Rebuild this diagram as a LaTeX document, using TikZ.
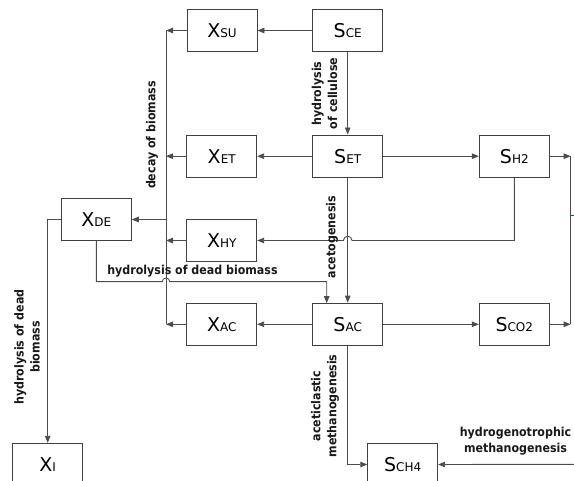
\documentclass[tikz,border=0pt]{standalone}
\usepackage{fontspec}
\setmainfont{DejaVu Sans}
\newfontfamily\lblfont{DejaVu Sans Condensed}
\usetikzlibrary{arrows.meta}
\newcommand\boxlbl[2]{{\fontsize{19}{19}\selectfont #1}{\fontsize{12}{12}\selectfont #2}}
\begin{document}
\begin{tikzpicture}[x=1pt,y=-1pt,
  box/.style={draw=black!75, line width=0.9pt, minimum width=70pt, minimum height=42.4pt, inner sep=0pt},
  conn/.style={draw=black!70, line width=0.9pt},
  arr/.style={conn, -{Triangle[length=7pt,width=5.5pt]}},
  lbl/.style={font=\lblfont\bfseries\fontsize{12.3}{16}\selectfont, align=center, inner sep=0pt, text=black!90},
  stub/.style={draw=blue!60!cyan!70!black, line width=0.6pt},
]
\useasboundingbox (0,0) rectangle (574,481);

% boxes
\node[box] (XSU) at (222,30.5) {\boxlbl{X}{SU}};
\node[box] (SCE) at (347.7,30.5) {\boxlbl{S}{CE}};
\node[box] (XET) at (221.7,156.2) {\boxlbl{X}{ET}};
\node[box] (SET) at (347.7,156.2) {\boxlbl{S}{ET}};
\node[box] (SH2) at (514.3,156.2) {\boxlbl{S}{H2}};
\node[box] (XDE) at (96.3,219.5) {\boxlbl{X}{DE}};
\node[box] (XHY) at (221.7,240.5) {\boxlbl{X}{HY}};
\node[box] (XAC) at (221.7,324.3) {\boxlbl{X}{AC}};
\node[box] (SAC) at (347.7,324.3) {\boxlbl{S}{AC}};
\node[box] (SCO2) at (514.3,324.3) {\boxlbl{S}{CO2}};
\node[box] (SCH4) at (402.7,464.5) {\boxlbl{S}{CH4}};
\node[box] (XI) at (47.7,464.5) {\boxlbl{X}{I}};

% coordinates
\coordinate (bustop) at (166,30.5);
\coordinate (busbot) at (166,324.3);
\coordinate (rtop) at (570.7,156.2);
\coordinate (rbot) at (570.7,324.3);
\coordinate (stubA) at (570.7,215);
\coordinate (stubB) at (574,215);
\coordinate (rightin) at (574,464.3);

% decay bus
\draw[conn] (bustop) -- (busbot);
\draw[arr] (XSU.west) -- (bustop);
\draw[arr] (XET.west) -- (XET.west -| bustop);
\draw[arr] (XHY.west) -- (XHY.west -| bustop);
\draw[arr] (XAC.west) -- (busbot);
\draw[arr] (XDE.east -| bustop) -- (XDE.east);

% top row
\draw[arr] (SCE.west) -- (XSU.east);
\draw[arr] (SCE.south) -- (SET.north);
\draw[arr] (SET.west) -- (XET.east);
\draw[arr] (SET.east) -- (SH2.west);
\draw[arr] (SH2.east) -- (rtop);
\draw[conn] (rtop) -- (rbot);
\draw[stub] (stubA) -- (stubB);

% SH2 -> XHY with hop
\draw[arr] (SH2.south) -- (514.3,240.5) -- (352,240.5) arc[start angle=0, end angle=180, radius=4.3pt] -- (XHY.east);

% acetogenesis
\draw[arr] (SET.south) -- (SAC.north);

% XDE -> SAC with hop
\draw[arr] (XDE.south) -- (96.3,281.7) -- (162.3,281.7) arc[start angle=180, end angle=0, radius=3.7pt] -- (326.7,281.7) -- (326.7,303.1);

% XDE -> XI
\draw[arr] (XDE.west) -| (XI.north);

% bottom row
\draw[arr] (SAC.west) -- (XAC.east);
\draw[arr] (SAC.east) -- (SCO2.west);
\draw[arr] (SCO2.east) -- (rbot);
\draw[arr] (SAC.south) |- (SCH4.west);
\draw[arr] (rightin) -- (SCH4.east);

% labels
\node[lbl, rotate=90] (l1) at (152,135) {decay of biomass};
\node[lbl, rotate=90] (l2) at (324.5,93.5) {hydrolysis\\of cellulose};
\node[lbl, rotate=90] (l3) at (332,237) {acetogenesis};
\node[lbl] (l4) at (192.5,271.5) {hydrolysis of dead biomass};
\node[lbl, rotate=90] (l5) at (325,406) {aceticlastic\\methanogenesis};
\node[lbl] (l6) at (515.5,441) {hydrogenotrophic\\methanogenesis};
\node[lbl, rotate=90] (l7) at (27,347) {hydrolysis of dead\\biomass};
\end{tikzpicture}
\end{document}
